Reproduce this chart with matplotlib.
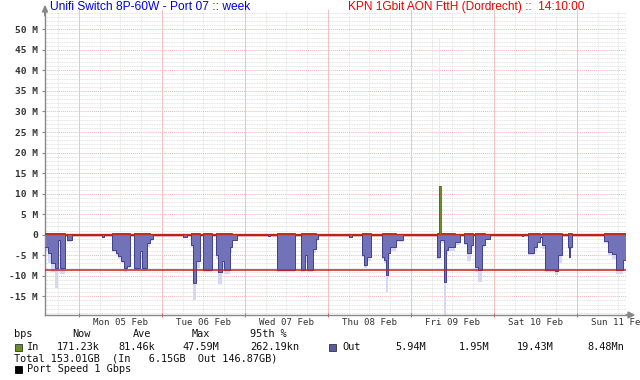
import matplotlib
matplotlib.use("Agg")
import matplotlib.pyplot as plt
from matplotlib.patches import Rectangle
import numpy as np

# ---------------- data (hours since Mon 05 Feb 00:00, values in Mbit/s) ----------------
t_hours = [-9.83, -8.96, -8.10, -6.94, -6.07, -5.49, -4.05, -3.56, -2.11, 6.56, 7.23,
           9.46, 10.70, 11.28, 12.15, 13.01, 13.88, 14.75, 15.99, 17.64, 18.13, 19.75,
           20.53, 21.40, 30.07, 31.23, 32.30, 32.97, 33.69, 34.99, 35.94, 38.55, 39.53,
           40.19, 41.35, 42.07, 43.66, 44.24, 45.60, 54.74, 55.20, 57.17, 62.46, 64.20,
           65.35, 65.93, 67.67, 68.45, 69.11, 78.16, 78.86, 81.75, 82.27, 83.28, 84.35,
           87.53, 88.20, 88.78, 89.21, 89.93, 91.67, 93.61, 103.61, 103.96, 104.39,
           104.60, 105.41, 106.13, 106.71, 108.73, 110.17, 111.33, 112.20, 113.36,
           114.02, 114.51, 115.38, 116.45, 117.41, 118.85, 128.02, 128.48, 129.93,
           131.58, 132.44, 133.31, 133.80, 134.76, 137.65, 138.52, 139.76, 141.32,
           141.70, 141.99, 142.65, 151.90, 152.97, 154.13, 155.29, 157.31, 158.17]

out_avg = [-2.9, -4.5, -6.9, -8.1, -1.3, -8.1, 0, -1.3, 0, -0.5, 0,
           -3.7, -4.5, -5.3, -6.5, -8.1, -7.6, 0, -8.1, -4.0, -8.1, -2.0,
           -1.0, 0, -0.5, 0, -2.5, -11.8, -6.5, 0, -8.6, 0, -5.0,
           -9.0, -6.5, -8.6, -3.0, -1.2, 0, -0.3, 0, -8.6, 0, -8.6,
           -5.0, -8.6, -3.5, -1.0, 0, -0.5, 0, -4.9, -7.4, -5.5, 0,
           -5.5, -6.2, -9.8, -4.5, -3.0, -1.3, 0, -5.4, -5.4, -1.3,
           -1.3, -11.6, -3.7, -2.9, -1.8, 0, -2.0, -4.5, -2.5,
           0, -7.8, -8.6, -2.5, -1.0, 0, -0.3, 0, -4.5,
           -3.0, -1.7, -0.5, -2.5, -8.6, -8.9, -5.0, 0, -2.9,
           -5.5, -2.9, 0, -1.5, -4.1, -4.8, -8.6, -6.2, -6.2]

out_max = [-4.0, -6.8, -9.0, -13.0, -3.0, -9.5, 0, -1.8, 0, -0.8, 0,
           -4.2, -5.0, -6.0, -7.0, -9.0, -8.2, 0, -8.6, -6.0, -8.8, -3.0,
           -1.5, 0, -0.7, 0, -3.0, -16.0, -8.0, 0, -9.0, 0, -6.0,
           -12.0, -8.0, -9.5, -4.5, -1.5, 0, -0.5, 0, -9.2, 0, -9.0,
           -7.0, -9.0, -4.5, -1.5, 0, -0.7, 0, -5.5, -8.0, -6.5, 0,
           -6.0, -7.0, -14.0, -6.0, -4.0, -1.8, 0, -6.0, -6.0, -2.0,
           -2.0, -19.43, -5.0, -4.0, -2.5, 0, -2.5, -6.5, -3.0,
           0, -9.0, -11.4, -3.0, -1.3, 0, -0.5, 0, -5.0,
           -4.0, -2.0, -1.0, -3.5, -9.0, -9.8, -7.0, 0, -3.5,
           -6.0, -3.5, 0, -2.0, -5.0, -6.0, -9.5, -6.5, -6.5]

in_avg = [0.3, 0.3, 0.3, 0.3, 0.3, 0.3, 0.05, 0.2, 0.05, 0.05, 0.05,
          0.35, 0.35, 0.35, 0.35, 0.35, 0.35, 0.05, 0.35, 0.35, 0.35, 0.3,
          0.2, 0.05, 0.05, 0.05, 0.3, 0.3, 0.3, 0.05, 0.35, 0.05, 0.35,
          0.35, 0.35, 0.35, 0.3, 0.2, 0.05, 0.05, 0.05, 0.35, 0.05, 0.35,
          0.35, 0.35, 0.3, 0.2, 0.05, 0.05, 0.05, 0.3, 0.3, 0.3, 0.05,
          0.35, 0.35, 0.35, 0.35, 0.3, 0.2, 0.05, 0.3, 11.9, 11.9,
          0.3, 0.3, 0.3, 0.3, 0.2, 0.05, 0.3, 0.3, 0.3,
          0.05, 0.35, 0.35, 0.3, 0.2, 0.05, 0.05, 0.05, 0.35,
          0.3, 0.3, 0.2, 0.3, 0.35, 0.35, 0.35, 0.05, 0.3,
          0.3, 0.3, 0.05, 0.3, 0.35, 0.35, 0.35, 0.35, 0.35]

in_max = list(in_avg)
in_max[63] = 47.59

pct95_in = 0.26219
pct95_out = -8.48

day_labels = ["Mon 05 Feb", "Tue 06 Feb", "Wed 07 Feb", "Thu 08 Feb",
              "Fri 09 Feb", "Sat 10 Feb", "Sun 11 Feb"]
y_ticks = [-15, -10, -5, 0, 5, 10, 15, 20, 25, 30, 35, 40, 45, 50]

title_left = "Unifi Switch 8P-60W - Port 07 :: week"
title_right = "KPN 1Gbit AON FttH (Dordrecht) ::  14:10:00"

# ---------------- figure ----------------
W, H = 640, 380
fig = plt.figure(figsize=(6.4, 3.8), dpi=100)
fig.patch.set_facecolor("white")

def fx(px):
    return px / W

def fy(py):
    return 1 - py / H

ax = fig.add_axes([fx(45), fy(315), fx(626) - fx(45), fy(10) - fy(315)])
ax.set_facecolor("white")
x0, x1 = -9.83, 158.17
ax.set_xlim(x0, x1)
ax.set_ylim(-19.55, 54.7)

# grid
for yv in np.arange(-19, 55, 1):
    if yv % 5 == 0:
        continue
    ax.axhline(yv, color="#d8d8d8", lw=0.6, ls=(0, (1, 1)), zorder=0)
for yv in y_ticks:
    ax.axhline(yv, color="#f4b4b4", lw=0.7, ls=(0, (1, 1)), zorder=0.5)
for xv in np.arange(-6, 159, 6):
    if xv % 24 == 0:
        continue
    ax.axvline(xv, color="#dcdcdc", lw=0.6, ls=(0, (1, 1)), zorder=0)
for xv in range(0, 145, 24):
    ax.axvline(xv, color="#f4c0c0", lw=0.7, zorder=0.5)

t = np.array(t_hours)
# max (light) areas
ax.fill_between(t, 0, np.array(out_max), step="post", color="#d6d6f5", lw=0, zorder=1)
ax.fill_between(t, 0, np.array(in_max), step="post", color="#dff3d4", lw=0, zorder=1)
# average areas
ax.fill_between(t, 0, np.array(out_avg), step="post", color="#7272b8", lw=0, zorder=2)
ax.step(t, out_avg, where="post", color="#40408e", lw=0.7, zorder=3)
ax.fill_between(t, 0, np.array(in_avg), step="post", color="#6b8e23", lw=0, zorder=2)
ax.step(t, in_avg, where="post", color="#4d6b14", lw=0.6, zorder=3)

# 95th percentile rules
ax.axhline(0, color="#f2a8a8", lw=2.0, zorder=1.5)
ax.axhline(pct95_in, color="#cc1f1f", lw=1.0, alpha=0.85, zorder=4)
ax.axhline(pct95_out, color="#cc1f1f", lw=1.1, zorder=4)

# axes styling
for s in ["top", "right"]:
    ax.spines[s].set_visible(False)
for s in ["left", "bottom"]:
    ax.spines[s].set_color("#888888")
    ax.spines[s].set_linewidth(1.0)

ax.set_yticks(y_ticks)
ax.set_yticklabels([("%d M" % v) if v != 0 else "0" for v in y_ticks],
                   family="DejaVu Sans Mono", fontsize=6.8, color="#333333", fontweight="bold")
ax.tick_params(axis="y", length=2, color="#888888", pad=3)
ax.set_xticks(range(0, 145, 24))
ax.set_xticklabels([])
ax.tick_params(axis="x", length=3, color="#e06060", direction="inout")
for i, lab in enumerate(day_labels):
    ax.text(12 + 24 * i, fy(322.5), lab, transform=ax.get_xaxis_transform() if False else
            matplotlib.transforms.blended_transform_factory(ax.transData, fig.transFigure),
            ha="center", va="center", family="DejaVu Sans Mono", fontsize=6.6,
            color="#333333", clip_on=False)

# arrows at axis ends
fig.patches.append(matplotlib.patches.FancyArrow(
    fx(45), fy(16), 0, fy(6) - fy(16), width=0.0005, head_width=fx(5), head_length=(fy(6) - fy(12)),
    length_includes_head=True, color="#888888", transform=fig.transFigure))
fig.patches.append(matplotlib.patches.FancyArrow(
    fx(626), fy(315), fx(634) - fx(626), 0, width=0.0005, head_width=(fy(312) - fy(318)),
    head_length=fx(6), length_includes_head=True, color="#888888", transform=fig.transFigure))

# titles
fig.text(fx(50), fy(7), title_left, color="#0000ee", fontsize=8.65,
         family="Liberation Sans", ha="left", va="center")
fig.text(fx(348), fy(7), title_right, color="#ee0000", fontsize=8.6,
         family="Liberation Sans", ha="left", va="center")

# legend text
mono = dict(family="DejaVu Sans Mono", fontsize=7.4, color="#111111", va="center", ha="left")
fig.text(fx(14), fy(334), "bps", **mono)
for xp, s in [(72, "Now"), (133, "Ave"), (192, "Max"), (250, "95th %")]:
    fig.text(fx(xp), fy(334), s, **mono)

row2 = 347
fig.patches.append(Rectangle((fx(15), fy(row2 + 3.5)), fx(7), fy(row2 - 3.5) - fy(row2 + 3.5),
                             transform=fig.transFigure, facecolor="#6b8e23", edgecolor="#333333", lw=0.6))
fig.text(fx(27), fy(row2), "In", **mono)
for xp, s in [(57, "171.23k"), (118, "81.46k"), (182, "47.59M"), (250, "262.19kn")]:
    fig.text(fx(xp), fy(row2), s, **mono)
fig.patches.append(Rectangle((fx(329), fy(row2 + 3.5)), fx(7), fy(row2 - 3.5) - fy(row2 + 3.5),
                             transform=fig.transFigure, facecolor="#5a5a9e", edgecolor="#333333", lw=0.6))
fig.text(fx(342), fy(row2), "Out", **mono)
for xp, s in [(395, "5.94M"), (459, "1.95M"), (517, "19.43M"), (587, "8.48Mn")]:
    fig.text(fx(xp), fy(row2), s, **mono)

fig.text(fx(14), fy(358.5), "Total 153.01GB  (In   6.15GB  Out 146.87GB)", **mono)
fig.patches.append(Rectangle((fx(15), fy(369 + 3.5)), fx(7), fy(369 - 3.5) - fy(369 + 3.5),
                             transform=fig.transFigure, facecolor="#000000", edgecolor="#000000", lw=0.6))
fig.text(fx(27), fy(369.5), "Port Speed 1 Gbps", **mono)

fig.savefig("out.png", dpi=100, facecolor="white")
